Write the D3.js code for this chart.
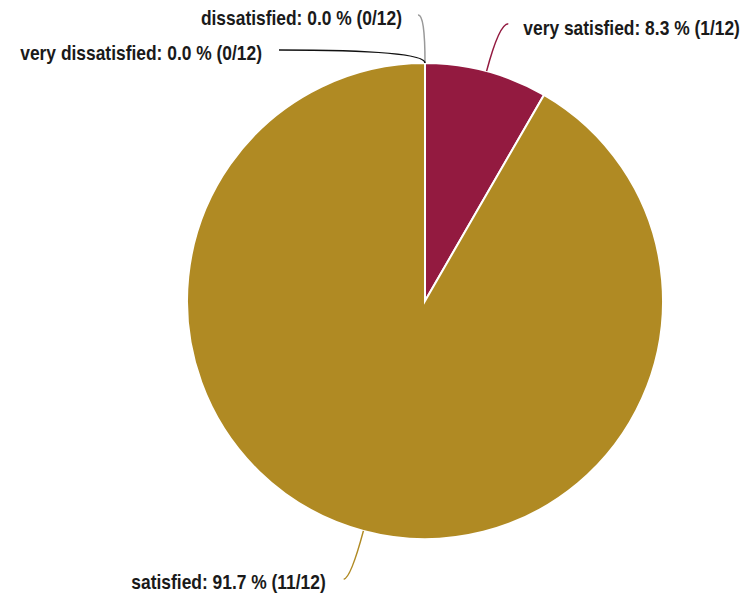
<!DOCTYPE html>
<html><head><meta charset="utf-8">
<script src="https://cdn.jsdelivr.net/npm/d3@7"></script>
<style>html,body{margin:0;padding:0;background:#fff;}svg{display:block;}</style>
</head><body>
<svg id="chart" width="744" height="596"></svg>
<script>
const categories = ["very satisfied", "satisfied", "dissatisfied", "very dissatisfied"];
const counts = [1, 11, 0, 0];
const total = 12;
const colors = ["#931A40", "#B08A23", "#999999", "#111111"];
// label layout: control radius, horizontal offset of line end, text anchor, text gap/offset
const labelLayout = [
  {ctrl: 287, endDx: 9, endDy: 0, anchor: "start", tx: 15, ty: 11},
  {ctrl: 287, endDx: -7, endDy: 1, anchor: "end", tx: -18, ty: 10},
  {ctrl: 287, endDx: -7, endDy: 1, anchor: "end", tx: -16, ty: 10},
  {ctrl: 251, endDx: -146, endDy: 0, anchor: "end", tx: -17, ty: 10}
];

const svg = d3.select("#chart");
const cx = 425, cy = 301, r = 238;
const g = svg.append("g").attr("transform", `translate(${cx},${cy})`);
const data = categories.map((c, i) => ({cat: c, v: counts[i], i}));
const pie = d3.pie().value(d => d.v).sort(null);
const arcs = pie(data);
const arc = d3.arc().innerRadius(0).outerRadius(r);

g.selectAll("path.slice").data(arcs).enter().append("path")
  .attr("class", "slice")
  .attr("d", arc)
  .attr("fill", d => colors[d.data.i])
  .attr("stroke", "#fff").attr("stroke-width", 2);

const pt = (a, rad) => [rad * Math.sin(a), -rad * Math.cos(a)];
arcs.forEach(d => {
  const L = labelLayout[d.data.i];
  const a = (d.startAngle + d.endAngle) / 2;
  const s = pt(a, r);
  const c = pt(a, L.ctrl);
  const e = [c[0] + L.endDx, c[1] + L.endDy];
  g.append("path")
    .attr("d", `M${s[0]},${s[1]}Q${c[0]},${c[1]} ${e[0]},${e[1]}`)
    .attr("fill", "none").attr("stroke", colors[d.data.i]).attr("stroke-width", 1.5);
  const pct = (d.data.v / total * 100).toFixed(1);
  g.append("text")
    .attr("transform", `translate(${e[0] + L.tx},${e[1] + L.ty}) scale(0.893,1)`)
    .attr("text-anchor", L.anchor)
    .attr("font-family", "Liberation Sans, Arial, Helvetica, sans-serif")
    .attr("font-weight", "bold").attr("font-size", 19.5)
    .attr("fill", "#1a1a1a")
    .text(`${d.data.cat}: ${pct} % (${d.data.v}/${total})`);
});
</script>
</body></html>
